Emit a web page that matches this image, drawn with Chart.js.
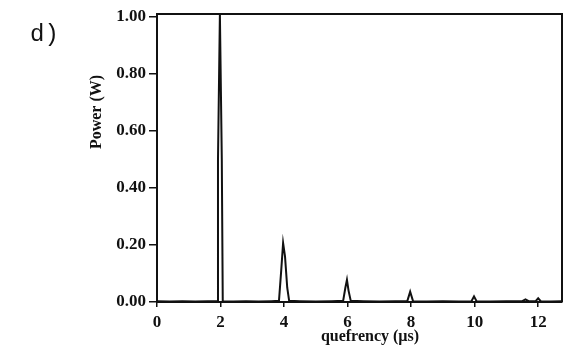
<!DOCTYPE html>
<html>
<head>
<meta charset="utf-8">
<script src="https://cdn.jsdelivr.net/npm/chart.js@4/dist/chart.umd.min.js"></script>
<style>
    html, body { margin: 0; padding: 0; background: #fff; }
    #wrap { position: relative; width: 563px; height: 349px; }
    #panel {
        position: absolute; left: 30px; top: 21px;
        font: 24px "Liberation Mono", monospace; color: #111;
    }
</style>
</head>
<body>
<div id="wrap">
    <canvas id="cepstrum" width="563" height="349"></canvas>
    <div id="panel">d)</div>
</div>
<script>
/**
 * Cepstrum of the pulse train, panel d.
 */

var quefrency = [0, 0.4, 0.8, 1.2, 1.6, 1.89, 1.92, 1.98, 2.04, 2.07, 2.4, 2.8, 3.2, 3.6, 3.84, 3.91, 3.97, 4.03, 4.1, 4.16,
                 4.5, 5.0, 5.5, 5.86, 5.93, 5.98, 6.03, 6.1, 6.5, 7.0, 7.5, 7.88, 7.97, 8.06, 8.5, 9.0, 9.5, 9.9,
                 9.98, 10.06, 10.5, 11.0, 11.5, 11.6, 11.7, 11.92, 12.0, 12.08, 12.4, 12.75];
var power     = [0.003, 0.002, 0.003, 0.002, 0.003, 0.003, 0.5, 1.01, 0.5, 0.003, 0.002, 0.003, 0.002, 0.003, 0.004, 0.11, 0.207, 0.16, 0.05, 0.004,
                 0.003, 0.002, 0.003, 0.004, 0.05, 0.078, 0.04, 0.004, 0.003, 0.002, 0.003, 0.003, 0.036, 0.003, 0.002, 0.003, 0.002, 0.003,
                 0.02, 0.003, 0.002, 0.003, 0.003, 0.009, 0.003, 0.003, 0.013, 0.003, 0.002, 0.003];

var xTicks = [0, 2, 4, 6, 8, 10, 12];
var yTicks = [0, 0.2, 0.4, 0.6, 0.8, 1.0];

var xTitle = 'quefrency (µs)';
var yTitle = 'Power (W)';

var points = quefrency.map((q, i) => ({x: q, y: power[i]}));

// frame on top / right and the axis titles
var framePlugin = {
    id: 'frame',
    afterDraw(chart) {
        var c = chart.ctx;
        var a = chart.chartArea;
        c.save();
        c.strokeStyle = '#111';
        c.lineWidth = 2;
        c.beginPath();
        c.moveTo(a.left, a.top);
        c.lineTo(a.right, a.top);
        c.lineTo(a.right, a.bottom);
        c.stroke();

        c.fillStyle = '#111';
        c.font = 'bold 16px "Liberation Serif", serif';
        c.textAlign = 'center';
        c.textBaseline = 'middle';
        c.fillText(xTitle, 370, 337);

        c.translate(97, 112);
        c.rotate(-Math.PI / 2);
        c.fillText(yTitle, 0, 0);
        c.restore();
    }
};

var ctx = document.getElementById('cepstrum').getContext('2d');

var chart = new Chart(ctx, {
    type: 'scatter',

    data: {
        datasets: [{
            data: points,
            showLine: true,
            borderColor: '#111',
            borderWidth: 2,
            pointRadius: 0,
            tension: 0
        }]
    },

    options: {
        responsive: false,
        animation: false,
        layout: { padding: { top: 14, right: 1, left: 0, bottom: 0 } },
        plugins: {
            legend: { display: false },
            tooltip: { enabled: false }
        },
        scales: {
            x: {
                type: 'linear',
                min: 0,
                max: 12.75,
                afterBuildTicks: (s) => { s.ticks = xTicks.map(v => ({value: v})); },
                afterFit: (s) => { s.height = 47; },
                border: { display: true, color: '#111', width: 2 },
                grid: { display: true, drawOnChartArea: false, drawTicks: true, tickLength: 5, color: '#111', lineWidth: 1.5 },
                ticks: {
                    color: '#111',
                    padding: 5,
                    maxRotation: 0,
                    font: { family: '"Liberation Serif", serif', size: 17, weight: 'bold' }
                }
            },
            y: {
                min: 0,
                max: 1.01,
                afterBuildTicks: (s) => { s.ticks = yTicks.map(v => ({value: v})); },
                afterFit: (s) => { s.width = 157; },
                border: { display: true, color: '#111', width: 2 },
                grid: { display: true, drawOnChartArea: false, drawTicks: true, tickLength: 8, color: '#111', lineWidth: 1.5 },
                ticks: {
                    color: '#111',
                    padding: 3,
                    callback: (v) => v.toFixed(2),
                    font: { family: '"Liberation Serif", serif', size: 17, weight: 'bold' }
                }
            }
        }
    },

    plugins: [framePlugin]
});
</script>
</body>
</html>
